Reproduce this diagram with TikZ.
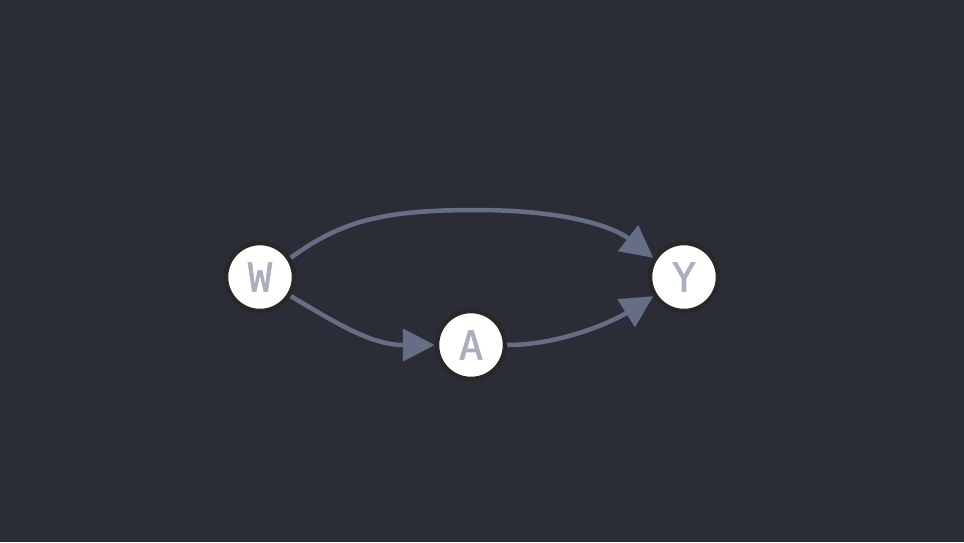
\documentclass[tikz,border=0pt]{standalone}
\usepackage{fontspec}
\newfontfamily\monofont[FakeBold=1.5]{DejaVu Sans Mono}
\usetikzlibrary{arrows.meta}
\definecolor{bgc}{HTML}{2A2D35}
\definecolor{edgec}{HTML}{656E84}
\definecolor{ringc}{HTML}{282829}
\definecolor{labc}{HTML}{A9AFBF}
\tikzset{
  var/.style={circle, fill=white, draw=ringc, line width=4.5pt, minimum size=68pt, inner sep=0pt,
    font=\monofont\fontsize{40}{40}\selectfont, text=labc},
  edge/.style={draw=edgec, line width=4.5pt, -{Triangle[length=32pt,width=32pt]}}
}
\begin{document}
\begin{tikzpicture}[x=1pt,y=-1pt]
\fill[bgc] (0,0) rectangle (964,542);
\useasboundingbox (0,0) rectangle (964,542);
\node[var] (W) at (260,277) {W};
\node[var] (A) at (471,345) {A};
\node[var] (Y) at (684,277) {Y};
\coordinate (top) at (475,210);
\draw[edge] (W.32) .. controls (340,222) and (380,210) .. (top)
  .. controls (570,210) and (615,228) .. (Y.148);
\draw[edge] (W.-32) .. controls (335,322) and (370,345) .. (A.180);
\draw[edge] (A.0) .. controls (560,345) and (612,322) .. (Y.-148);
\end{tikzpicture}
\end{document}
